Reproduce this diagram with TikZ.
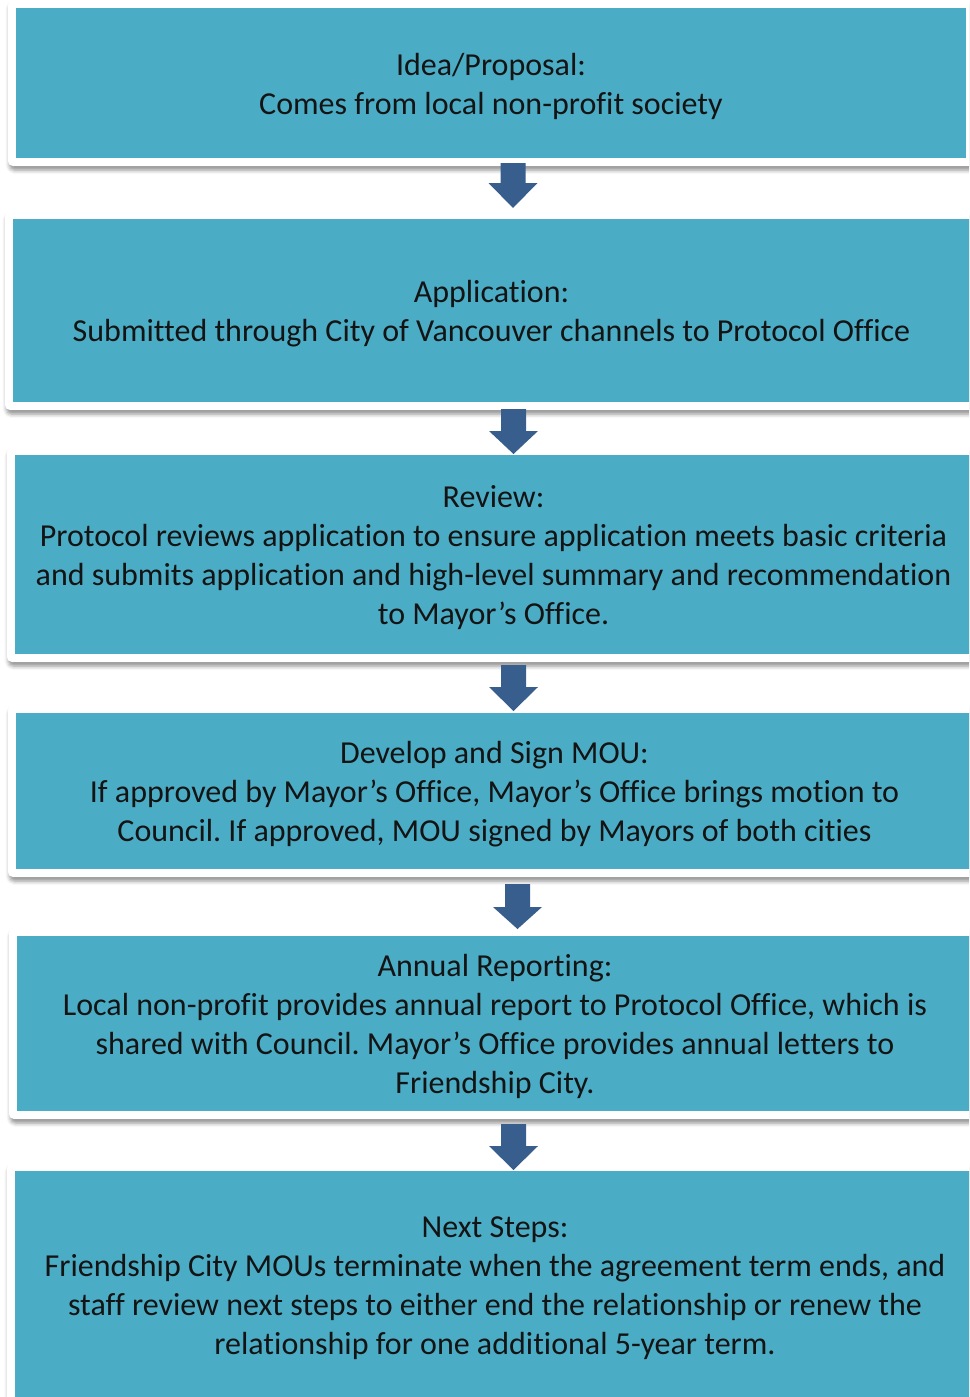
\documentclass[tikz,border=0pt]{standalone}
\usepackage{fontspec}
\setmainfont{Carlito}[Ligatures={NoCommon}]
\frenchspacing
\usetikzlibrary{shadows.blur}
\definecolor{stepteal}{RGB}{75,172,198}
\definecolor{arrowblue}{RGB}{56,94,142}
\definecolor{stepink}{RGB}{20,20,20}
\tikzset{
  frame/.style={fill=white, rounded corners=5pt,
    blur shadow={shadow xshift=1.5pt, shadow yshift=-4pt, shadow blur radius=4pt, shadow opacity=45}},
  stepbox/.style={fill=stepteal, draw=none, inner sep=0pt},
  steptext/.style={align=center, inner sep=0pt, text=stepink, font=\fontsize{32}{39}\selectfont},
  arrowfill/.style={fill=arrowblue},
}
% block arrow: centre x, shaft top, head base, tip
\newcommand\flowarrow[4]{%
  \fill[arrowfill] ({#1-12.5},#2) -- ({#1+12.5},#2) -- ({#1+12.5},#3) -- ({#1+24.5},#3)
    -- (#1,#4) -- ({#1-24.5},#3) -- ({#1-12.5},#3) -- cycle;}
% step: name, left, top, right, bottom, text
\newcommand\flowstep[6]{%
  \fill[frame] ({#2-8},{#3-8}) rectangle ({#4+8},{#5+8});
  \node[stepbox, minimum width={#4-#2}, minimum height={#5-#3}] (#1) at ({(#2+#4)/2},{(#3+#5)/2}) {};
  \node[steptext] (#1-text) at ([yshift=-3pt]#1.center) {#6};}
\begin{document}
\begin{tikzpicture}[x=1pt, y=-1pt]
\useasboundingbox (0,0) rectangle (969,1397);
\clip (0,0) rectangle (969,1397);
\flowstep{s1}{16}{8}{966}{158}{Idea/Proposal:\\Comes from local non-profit society}
\flowstep{s2}{13}{219}{970}{402}{Application:\\Submitted through City of Vancouver channels to Protocol Office}
\flowstep{s3}{15}{455}{972}{654}{Review:\\Protocol reviews application to ensure application meets basic criteria\\and submits application and high-level summary and recommendation\\to Mayor’s Office.}
\flowstep{s4}{16}{713}{973}{869}{Develop and Sign MOU:\\If approved by Mayor’s Office, Mayor’s Office brings motion to\\Council. If approved, MOU signed by Mayors of both cities}
\flowstep{s5}{17}{936}{973}{1111}{Annual Reporting:\\Local non-profit provides annual report to Protocol Office, which is\\shared with Council. Mayor’s Office provides annual letters to\\Friendship City.}
\flowstep{s6}{15}{1171}{975}{1400}{Next Steps:\\Friendship City MOUs terminate when the agreement term ends, and\\staff review next steps to either end the relationship or renew the\\relationship for one additional 5-year term.}
\flowarrow{513}{163}{183}{208}
\flowarrow{513.5}{409}{431}{454}
\flowarrow{513.5}{665}{687}{711}
\flowarrow{517.5}{884}{907}{929}
\flowarrow{513.5}{1124}{1146}{1170}
\end{tikzpicture}
\end{document}
